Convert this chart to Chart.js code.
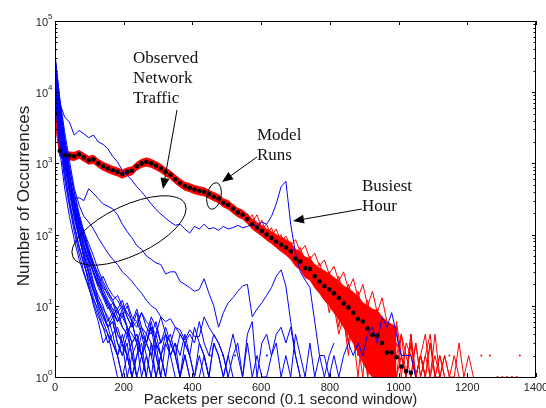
<!DOCTYPE html>
<html>
<head>
<meta charset="utf-8">
<script src="https://cdn.jsdelivr.net/npm/chart.js@4.4.0/dist/chart.umd.min.js"></script>
<style>
html,body{margin:0;padding:0;background:#fff;}
canvas{display:block;}
</style>
</head>
<body>
<canvas id="chart" width="546" height="408"></canvas>
<script>
// bin positions (packets per second)
const pps=[0,14,28,42,56,70,84,98,112,126,140,154,168,182,196,210,224,238,252,266,280,294,308,322,336,350,364,378,392,406,420,434,448,462,476,490,504,518,532,546,560,574,588,602,616,630,644,658,672,686,700,714,728,742,756,770,784,798,812,826,840,854,868,882,896,910,924,938,952,966,980,994,1008,1022,1036,1050,1064,1078,1092,1106,1120,1134,1148,1162,1176,1190,1204,1218,1232,1246,1260,1274,1288,1302,1316,1330,1344,1358,1372,1386,1400];

const xTicks=[0,200,400,600,800,1000,1200,1400];
const yTicks=[1,10,100,1000,10000,100000];
const yExp=["0","1","2","3","4","5"];

// model runs: mean (black dots), band high/low edges
const meanRun=[5000,1500,1300,1280,1260,1340,1220,1110,1140,1000,910,850,800,760,710,760,790,910,1000,1050,1000,930,850,760,690,600,530,480,455,430,410,400,370,340,320,280,260,230,205,190,165,140,125,112,100,90,80,72,66,58,46,42,34,33,26,22,19,17,15,13,10.8,9.5,8,6.5,6,4.8,3.9,3.8,3,2.2,2.2,1.9,1.4,1.2,1.15];
const runHigh=[7000,2200,1480,1450,1430,1520,1390,1260,1300,1140,1040,970,910,865,810,865,900,1035,1140,1195,1140,1060,970,865,785,685,605,545,520,490,470,455,420,390,365,320,300,265,235,220,192,165,148,134,120,110,100,92,85,76,62,58,48,46,38,34,31,28,25,22,19,17.5,15.5,13.5,11,10,9,8.5,7,6,5.5,5];
const runLow=[3800,1250,1150,1120,1100,1180,1070,975,1000,880,800,745,700,665,620,665,690,800,880,920,880,815,745,665,605,525,465,420,400,375,360,350,325,298,280,245,228,200,178,165,143,120,107,95,84,75,66,58,52,45,36,32,25,23,18,15,12,10,8,6.5,5,4,3,2.2,1.6,1.2,1,1,1,1,1,1];
const runSpikeA=[200,150,190,120,140,95,120,80,95,70,85,58,70,45,55,36,44,28,36,22,30,17,24,13,20,10,16,8,13,6];
const runSpikeB=[150,190,125,160,100,125,82,100,66,80,52,66,40,50,30,40,24,30,18,26,14,20,11,16,8,12,5,9,3,6];
const redTail1=[6,3,8,2,5,1,4,2,6,1,3,1,4,2,1,3,1,2,4,1,2,1];
const redTail2=[4,1,5,2,7,1,3,5,1,2,4,1,3,1,2,1,3,1,1,2,1,2,1];
const redTail3=[10,4,7,2,9,3,1,6,2,4,1,5,1,3,2,1,4,1,2,1];
const redTail4=[3,6,2,1,4,1,2,5,1,3,2,1,2,4,1,2,1];
const redTail5=[1,3,1,2,1,4,1,2,1,1,3,1,2,1];
const redTail6=[20,8,15,5,12,3,9,2,7,1,5,2,4,1,3,1,2,1,3,1,2,1];
const redTail7=[2,5,1,3,1,6,2,1,4,1,2,1,3,1,2,1];
const redDotX=[1148,1241,1266,1353,1288,1302,1316,1330,1344];
const redDotY=[2,2,2,2,1,1,1,1,1];

// observed network traffic (blue)
const obsBusy=[20000,7000,4500,3800,2500,2900,2600,2300,2500,2000,1850,1600,1250,1050,800,680,580,470,400,330,270,225,195,170,150,135,140,120,105,130,120,140,120,125,115,130,120,125,135,125,130,140,130,150,140,180,270,470,560,140,55,30,23,18,6,2,2,1,2,1,2,3,2,3,2,4,5,3,7,5,8,4,2,2,2,1];
const obsC=[15000,3000,900,450,320,330,300,440,380,320,270,250,230,190,140,110,90,70,62,50,45,40,38,28,30,30,22,20,18,16,17,24,15,10,5,8,11,13,16,19,20,7,9,11,14,18,26,32,19,6,2,1];
const obs01=[34000,8000,2200,700,260,100,45,20,10,6,3,4,2,1];
const obs02=[30000,6000,1800,650,280,130,70,40,22,12,8,5,6,3,2,4,2,1];
const obs03=[26000,5000,1400,500,200,90,50,30,18,12,9,7,4,5,3,2,1,2,3,1];
const obs04=[22000,4500,1200,450,190,100,60,35,20,14,10,6,8,4,3,5,2,3,1,2,1];
const obs05=[18000,3500,1000,380,170,90,55,30,16,10,7,5,3,2,4,2,1];
const obs06=[15000,2800,800,300,140,70,40,22,13,8,5,3,4,2,1,2,1];
const obs07=[12000,2200,700,280,130,65,38,25,16,10,7,5,6,3,2,3,1,2,4,2,1,3,1];
const obs08=[28000,7000,2200,850,380,180,100,60,36,22,14,10,7,9,5,4,6,3,2,4,3,1,2,1];
const obs09=[24000,5500,1800,700,320,160,95,55,35,24,15,11,8,6,7,5,3,4,2,3,5,2,1,3,2,1];
const obs10=[20000,4500,1500,600,280,150,90,60,40,28,20,14,11,9,12,7,5,8,4,3,6,3,2,4,2,3,1,2,1];
const obs11=[32000,8000,2800,1100,450,260,180,150,120,90,70,55,45,38,30,26,22,18,15,12,10,9,7,6,6.6,5,4.6,3.3,4.6,3.7,3.7,7,5,3.9,3,2,1];
const obs12=[16000,3200,1100,450,220,120,70,45,30,20,14,10,8,6,9,5,4,3,5,3,2,4,2,1,3,2,1,2,1];
const obs13=[10000,2000,600,250,110,55,30,18,11,7,5,4,3,2,3,1,2,1];
const obs14=[27000,6500,2200,900,400,200,110,65,40,26,18,15,12,8,10,7,5,6,4,3,5,3,2,3,4,2,1,3,2,1,2,1];
const obs15=[21000,4200,1500,650,300,170,110,75,50,32,22,16,12,14,10,8,6,9,5,4,7,5,3,4,2,3,2,4,2,1,3,2,1];
const obs16=[14000,3200,1200,520,260,140,85,55,35,24,17,12,9,6,8,5,3,4,2,3,2,1,2,1];
const obs17=[25000,5000,1500,600,300,160,90,50,30,20,15,11,9,8,7,10,6,5,8,6,5,4,7,4,3,5,4,3,4,3,6,3,2,4,3,2,1,2,3,1,4,6,1,3,4,2,4,5,3,5,2,1];
const obs18=[19000,4000,1300,480,220,110,65,42,30,20,26,18,14,12,9,11,7,6,8,5,4,6,3,5,3,2,4,3,2,5,3,2,1,3,2,1,2,1];
const obs19=[9000,1500,450,180,85,45,28,18,12,9,6,4,3,2,1];
const obs20=[17000,3800,1100,420,190,95,50,28,17,11,8,5,7,4,3,2,3,1,2,1,3,2,1];
const obs21=[23000,4800,1600,620,270,130,75,45,28,18,13,9,11,7,5,4,6,3,2,1];
const obs22=[1,2,1,3,2,1,2,4,2,1,3,1,2,1,1,2,3,1,2,1,4,2,1,3,1,2,1,2,3];
const obs22Start=30;
const blueDotX=[305,378,451,489,524,617];
const blueDotY=[3,2,2,2,2,2];

function pts(vals,start=0){
    return vals.map((v,i)=>({x:pps[start+i],y:v}));
}
function pairs(xs,ys){
    return xs.map((x,i)=>({x,y:ys[i]}));
}

const RED="#ff0000";
const BLUE="#0000ff";

const datasets=[];
datasets.push({data:pairs(pps.slice(0,meanRun.length),meanRun),showLine:false,pointRadius:2.3,pointBackgroundColor:"#000",pointBorderWidth:0,order:0});
[obsBusy,obsC,obs01,obs02,obs03,obs04,obs05,obs06,obs07,obs08,obs09,obs10,obs11,obs12,obs13,obs14,obs15,obs16,obs17,obs18,obs19,obs20,obs21].forEach(v=>{
    datasets.push({data:pts(v),borderColor:BLUE,borderWidth:1,order:1});
});
datasets.push({data:pts(obs22,obs22Start),borderColor:BLUE,borderWidth:1,order:1});
datasets.push({data:pairs(blueDotX,blueDotY),showLine:false,pointRadius:1,pointBackgroundColor:BLUE,pointBorderWidth:0,order:1});
datasets.push({data:pts(runHigh),borderColor:RED,backgroundColor:RED,borderWidth:1,fill:"+1",order:2});
datasets.push({data:pts(runLow),borderColor:RED,borderWidth:1,fill:false,order:2});
datasets.push({data:pts(runSpikeA,40),borderColor:RED,borderWidth:1,order:2});
datasets.push({data:pts(runSpikeB,40),borderColor:RED,borderWidth:1,order:2});
[[redTail1,60],[redTail2,62],[redTail3,58],[redTail4,64],[redTail5,74],[redTail6,56],[redTail7,66]].forEach(([v,s])=>{
    datasets.push({data:pts(v,s),borderColor:RED,borderWidth:1,order:2});
});
datasets.push({data:pairs(redDotX,redDotY),showLine:false,pointRadius:1,pointBackgroundColor:RED,pointBorderWidth:0,order:2});

// notes drawn over the plot
const notes=[
    {lines:["Observed","Network","Traffic"],x:133,y:63},
    {lines:["Model","Runs"],x:257,y:140},
    {lines:["Busiest","Hour"],x:362,y:191}
];
const arrows=[
    [177,110,163,189],
    [257,157,222,182],
    [362,209,293,221]
];
const ellipses=[
    [129,230.5,62,25,-0.44],
    [214,196,7,13.5,0.2]
];

function arrow(ctx,x0,y0,x1,y1){
    const a=Math.atan2(y1-y0,x1-x0);
    const L=11,W=4.5;
    const bx=x1-L*Math.cos(a),by=y1-L*Math.sin(a);
    ctx.beginPath();
    ctx.moveTo(x0,y0);
    ctx.lineTo(bx,by);
    ctx.stroke();
    ctx.beginPath();
    ctx.moveTo(x1,y1);
    ctx.lineTo(bx+W*Math.sin(a),by-W*Math.cos(a));
    ctx.lineTo(bx-W*Math.sin(a),by+W*Math.cos(a));
    ctx.closePath();
    ctx.fill();
}

const frame={
    id:"frame",
    afterDraw(chart){
        const {ctx,chartArea:a,scales:{x,y}}=chart;
        ctx.save();
        ctx.strokeStyle="#000";
        ctx.lineWidth=1;
        ctx.strokeRect(a.left+0.5,a.top+0.5,a.right-a.left-1,a.bottom-a.top);
        ctx.beginPath();
        xTicks.forEach(v=>{
            const p=Math.round(x.getPixelForValue(v))+0.5;
            ctx.moveTo(p,a.bottom);ctx.lineTo(p,a.bottom-4);
            ctx.moveTo(p,a.top);ctx.lineTo(p,a.top+4);
        });
        yTicks.forEach((v,i)=>{
            const p=Math.round(y.getPixelForValue(v))+0.5;
            ctx.moveTo(a.left,p);ctx.lineTo(a.left+4,p);
            ctx.moveTo(a.right,p);ctx.lineTo(a.right-4,p);
            if(i<yTicks.length-1){
                for(let m=2;m<10;m++){
                    const q=Math.round(y.getPixelForValue(v*m))+0.5;
                    ctx.moveTo(a.left,q);ctx.lineTo(a.left+2.5,q);
                    ctx.moveTo(a.right,q);ctx.lineTo(a.right-2.5,q);
                }
            }
        });
        ctx.stroke();

        ctx.fillStyle="#222";
        ctx.font="11px 'Liberation Sans', Arial, sans-serif";
        ctx.textAlign="center";
        ctx.textBaseline="top";
        xTicks.forEach(v=>{
            ctx.fillText(String(v),x.getPixelForValue(v),a.bottom+5);
        });
        yTicks.forEach((v,i)=>{
            const p=y.getPixelForValue(v);
            ctx.font="11px 'Liberation Sans', Arial, sans-serif";
            ctx.textAlign="right";
            ctx.textBaseline="middle";
            ctx.fillText("10",a.left-7,p+2);
            ctx.font="8px 'Liberation Sans', Arial, sans-serif";
            ctx.textAlign="left";
            ctx.fillText(yExp[i],a.left-7,p-4);
        });

        ctx.font="15px 'Liberation Sans', Arial, sans-serif";
        ctx.textAlign="center";
        ctx.textBaseline="middle";
        ctx.fillText("Packets per second (0.1 second window)",(a.left+a.right)/2-15,400);
        ctx.save();
        ctx.translate(24,196);
        ctx.rotate(-Math.PI/2);
        ctx.font="17px 'Liberation Sans', Arial, sans-serif";
        ctx.fillText("Number of Occurrences",0,0);
        ctx.restore();

        ctx.fillStyle="#111";
        ctx.font="17px 'Liberation Serif', 'Times New Roman', serif";
        ctx.textAlign="left";
        ctx.textBaseline="alphabetic";
        notes.forEach(n=>{
            n.lines.forEach((t,i)=>ctx.fillText(t,n.x,n.y+i*20));
        });
        ctx.strokeStyle="#000";
        ctx.fillStyle="#000";
        ctx.lineWidth=1;
        arrows.forEach(r=>arrow(ctx,...r));
        ellipses.forEach(([cx,cy,rx,ry,rot])=>{
            ctx.beginPath();
            ctx.ellipse(cx,cy,rx,ry,rot,0,Math.PI*2);
            ctx.stroke();
        });
        ctx.restore();
    }
};

new Chart(document.getElementById("chart"),{
    type:"line",
    data:{datasets},
    options:{
        responsive:false,
        animation:false,
        events:[],
        layout:{padding:{top:21,right:10,left:0,bottom:0}},
        elements:{
            point:{radius:0},
            line:{tension:0}
        },
        plugins:{
            legend:{display:false},
            tooltip:{enabled:false}
        },
        scales:{
            x:{
                type:"linear",
                min:0,
                max:1400,
                grid:{display:false},
                border:{display:false},
                ticks:{display:false},
                afterFit:s=>{s.height=31;}
            },
            y:{
                type:"logarithmic",
                min:1,
                max:100000,
                grid:{display:false},
                border:{display:false},
                ticks:{display:false},
                afterFit:s=>{s.width=55;}
            }
        }
    },
    plugins:[frame]
});
</script>
</body>
</html>
